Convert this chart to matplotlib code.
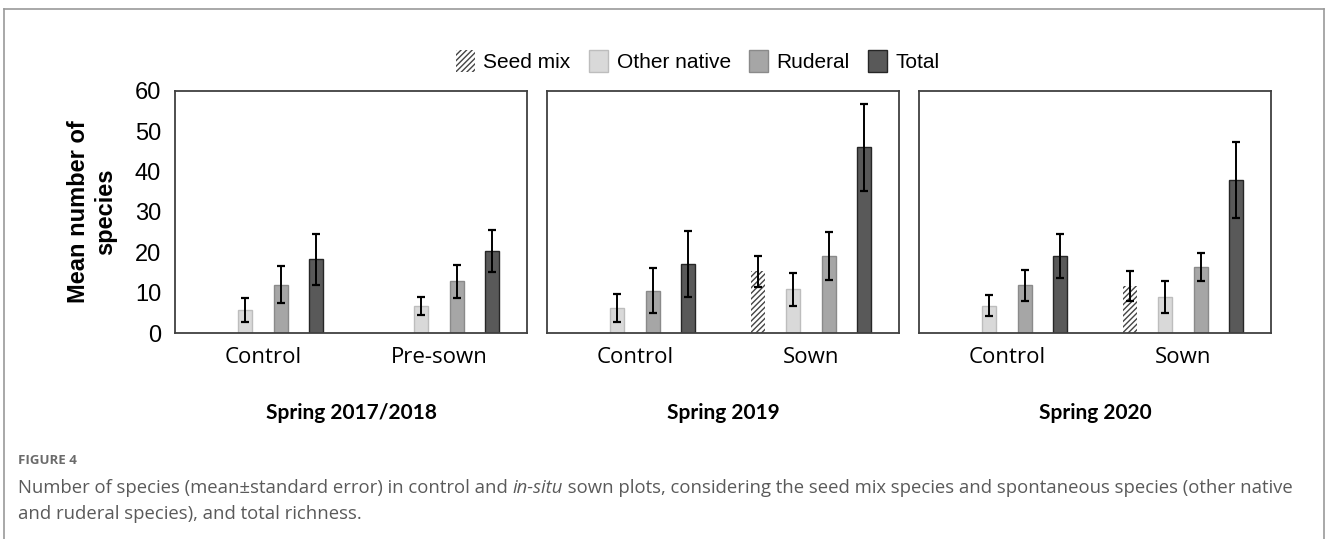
import numpy as np
import matplotlib
matplotlib.use("Agg")
import matplotlib.pyplot as plt
from matplotlib.patches import Patch
from matplotlib.lines import Line2D

# panels and treatments
groups = ['Spring 2017/2018', 'Spring 2019', 'Spring 2020']
treatments = [['Control', 'Pre-sown'], ['Control', 'Sown'], ['Control', 'Sown']]
series = ['Seed mix', 'Other native', 'Ruderal', 'Total']

nan = np.nan
# mean number of species, one row per panel, [control, treated]
seed_mean = [[nan, nan], [nan, 15.3], [nan, 11.6]]
seed_se = [[nan, nan], [nan, 3.8], [nan, 3.7]]
other_mean = [[5.8, 6.7], [6.2, 10.8], [6.8, 9.0]]
other_se = [[3.0, 2.3], [3.5, 4.1], [2.6, 4.0]]
ruderal_mean = [[12.0, 12.8], [10.5, 19.1], [11.8, 16.4]]
ruderal_se = [[4.5, 4.1], [5.6, 5.9], [3.8, 3.5]]
total_mean = [[18.3, 20.3], [17.1, 46.0], [19.1, 37.9]]
total_se = [[6.3, 5.2], [8.2, 10.7], [5.5, 9.4]]

y_ticks = [0, 10, 20, 30, 40, 50, 60]

means = [seed_mean, other_mean, ruderal_mean, total_mean]
ses = [seed_se, other_se, ruderal_se, total_se]
faces = ['white', '#d9d9d9', '#a6a6a6', '#595959']
edges = ['#444444', '#bdbdbd', '#8a8a8a', '#262626']
hatches = ['//////', None, None, None]
offsets = [-0.3, -0.1, 0.1, 0.3]
bw = 0.08

plt.rcParams['hatch.linewidth'] = 1.0

W, H = 1328, 539
fig = plt.figure(figsize=(W / 100, H / 100), dpi=100)

def fx(px):
    return px / W

def fy(py):
    return 1 - py / H

ax_top, ax_bot = 91, 333
lefts = [175, 547, 919]
pw = 352

sans = ['Liberation Sans', 'DejaVu Sans']
lab = ['Open Sans', 'DejaVu Sans']
for p in range(3):
    ax = fig.add_axes([fx(lefts[p]), fy(ax_bot), pw / W, (ax_bot - ax_top) / H])
    x = np.arange(2)
    for s in range(4):
        m = np.array(means[s][p], dtype=float)
        e = np.array(ses[s][p], dtype=float)
        ok = ~np.isnan(m)
        if not ok.any():
            continue
        ax.bar(x[ok] + offsets[s], m[ok], bw, color=faces[s], edgecolor=edges[s],
               linewidth=0 if hatches[s] else 1.0, hatch=hatches[s], zorder=2)
        ax.errorbar(x[ok] + offsets[s], m[ok], yerr=e[ok], fmt='none', ecolor='black',
                    elinewidth=1.4, capsize=3, capthick=1.6, zorder=3)
    ax.set_xlim(-0.5, 1.5)
    ax.set_ylim(0, 60)
    ax.set_yticks(y_ticks)
    ax.set_xticks(x)
    ax.set_xticklabels(treatments[p], fontsize=16, family=lab)
    ax.tick_params(axis='x', length=0, pad=10)
    ax.tick_params(axis='y', length=0, pad=10, labelsize=17)
    if p == 0:
        for t in ax.get_yticklabels():
            t.set_family(sans)
    else:
        ax.set_yticklabels([])
    for sp in ax.spines.values():
        sp.set_color('#404040')
        sp.set_linewidth(1.3)
    fig.text(fx(lefts[p] + pw / 2), fy(413), groups[p], ha='center', va='center',
             fontsize=15, fontweight='bold', family=['Lato', 'DejaVu Sans'])

fig.text(fx(92), fy((ax_top + ax_bot) / 2), 'Mean number of\nspecies', rotation=90,
         ha='center', va='center', multialignment='center', fontsize=17,
         fontweight='bold', family=sans, linespacing=1.2)

handles = [Patch(facecolor=faces[i], edgecolor=edges[i], hatch=hatches[i],
                 linewidth=0 if hatches[i] else 1.0) for i in range(4)]
fig.legend(handles, series, loc='center', bbox_to_anchor=(fx(698), fy(61)), ncol=4,
           frameon=False, prop={'family': sans, 'size': 15}, handlelength=0.9,
           handleheight=1.3, handletextpad=0.4, columnspacing=0.9)

# page frame
fc = '#9a9a9a'
fig.add_artist(Line2D([fx(4), fx(1324)], [fy(9), fy(9)], color=fc, lw=1.2))
fig.add_artist(Line2D([fx(4), fx(4)], [fy(9), 0], color=fc, lw=1.2))
fig.add_artist(Line2D([fx(1324), fx(1324)], [fy(9), 0], color=fc, lw=1.2))

fig.text(fx(18), fy(461), 'FIGURE 4', ha='left', va='center', fontsize=9.5,
         fontweight='bold', color='#6b6b6b', family=lab)

fig.canvas.draw()
r = fig.canvas.get_renderer()
pieces = [('Number of species (mean±standard error) in control and ', 'normal'),
          ('in-situ', 'italic'),
          (' sown plots, considering the seed mix species and spontaneous species (other native', 'normal')]
xpos = fx(18)
for txt, st in pieces:
    t = fig.text(xpos, fy(488), txt, ha='left', va='center', fontsize=13.3,
                 style=st, color='#5a5a5a', family=lab)
    bb = t.get_window_extent(renderer=r)
    xpos = bb.x1 / W
fig.text(fx(18), fy(514), 'and ruderal species), and total richness.', ha='left',
         va='center', fontsize=13.3, color='#5a5a5a', family=lab)

fig.savefig('out.png', dpi=100)
